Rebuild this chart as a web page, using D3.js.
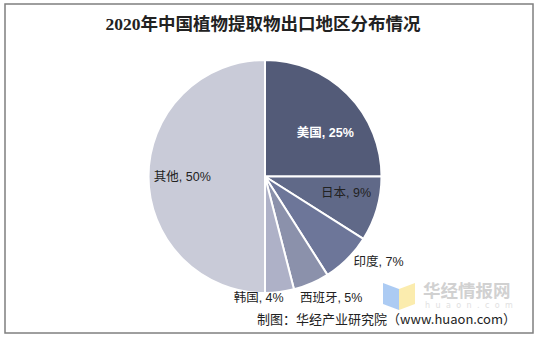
<!DOCTYPE html>
<html>
<head>
<meta charset="utf-8">
<script src="https://cdn.jsdelivr.net/npm/d3@7/dist/d3.min.js"></script>
<style>
  html, body { margin: 0; padding: 0; background: #fff; }
  svg { display: block; }
</style>
</head>
<body>
<svg id="chart" width="537" height="338"></svg>
<script>
// Export destinations of Chinese plant extracts, 2020 (share, %)
const regions = ["美国", "日本", "印度", "西班牙", "韩国", "其他"];
const shares  = [25, 9, 7, 5, 4, 50];
const sliceColors = ["#535b78", "#606988", "#6d7699", "#8b91ab", "#aeb1c7", "#c9cbd8"];
const titleText  = "2020年中国植物提取物出口地区分布情况";
const sourceText = "制图：华经产业研究院（www.huaon.com）";

const W = 537, H = 338;
const cx = 265, cy = 176.5, R = 116.5;

// label placement: angle (deg, clockwise from 12 o'clock) and radius factor
const labelLayout = {
  "美国":   { a: 54,    k: 0.64, color: "#ffffff", weight: "bold" },
  "日本":   { a: 101.5, k: 0.71, color: "#222", weight: "normal" },
  "印度":   { a: 127,   k: 1.22, color: "#222", weight: "normal" },
  "西班牙": { a: 151.5, k: 1.19, color: "#222", weight: "normal" },
  "韩国":   { a: 183,   k: 1.045, color: "#222", weight: "normal" },
  "其他":   { a: 270,   k: 0.71, color: "#222", weight: "normal" }
};

const svg = d3.select("#chart");

// outer frame
svg.append("rect")
  .attr("x", 5).attr("y", 4)
  .attr("width", 528).attr("height", 329)
  .attr("fill", "#fff")
  .attr("stroke", "#7f7f7f")
  .attr("stroke-width", 1.5);

// title
svg.append("text")
  .attr("x", 263).attr("y", 30)
  .attr("text-anchor", "middle")
  .attr("font-family", "'Liberation Serif', 'Times New Roman', 'Noto Sans CJK SC', serif")
  .attr("font-size", 17.5)
  .attr("font-weight", "bold")
  .attr("fill", "#222")
  .text(titleText);

const data = regions.map((r, i) => ({ region: r, value: shares[i], color: sliceColors[i] }));

const pie = d3.pie().value(d => d.value).sort(null);
const arc = d3.arc().innerRadius(0).outerRadius(R);

const g = svg.append("g").attr("transform", `translate(${cx},${cy})`);

g.selectAll("path.slice")
  .data(pie(data))
  .join("path")
  .attr("class", "slice")
  .attr("d", arc)
  .attr("fill", d => d.data.color)
  .attr("stroke", "#ffffff")
  .attr("stroke-width", 2)
  .attr("stroke-linejoin", "round");

// data labels
g.selectAll("text.lbl")
  .data(pie(data))
  .join("text")
  .attr("class", "lbl")
  .each(function (d) {
    const L = labelLayout[d.data.region];
    const ang = L.a * Math.PI / 180;
    const r = R * L.k;
    d3.select(this)
      .attr("x", r * Math.sin(ang))
      .attr("y", -r * Math.cos(ang))
      .attr("fill", L.color)
      .attr("font-weight", L.weight);
  })
  .attr("text-anchor", "middle")
  .attr("dominant-baseline", "central")
  .attr("font-family", "'Liberation Sans', Arial, 'Noto Sans CJK SC', sans-serif")
  .attr("font-size", 12.5)
  .text(d => `${d.data.region}, ${d.data.value}%`);

// watermark logo
const wm = svg.append("g").attr("opacity", 0.85);
wm.append("path")
  .attr("d", "M383,283 L399,289 L399,310 L383,304 Z")
  .attr("fill", "#9ec3f2");
wm.append("path")
  .attr("d", "M399,289 L415,283 L415,304 L399,310 Z")
  .attr("fill", "#fbe9a0");
wm.append("text")
  .attr("x", 423).attr("y", 297)
  .attr("font-family", "'Noto Sans CJK SC', sans-serif")
  .attr("font-size", 17.5)
  .attr("font-weight", "bold")
  .attr("fill", "#c9c9c9")
  .text("华经情报网");
wm.append("text")
  .attr("x", 425).attr("y", 308)
  .attr("font-family", "'DejaVu Sans', sans-serif")
  .attr("font-size", 8)
  .attr("letter-spacing", 5.4)
  .attr("fill", "#dcdcdc")
  .text("huaon.com");

// source line
svg.append("text")
  .attr("x", 516).attr("y", 324)
  .attr("text-anchor", "end")
  .attr("font-family", "'Noto Sans CJK SC', 'Liberation Sans', sans-serif")
  .attr("font-size", 13)
  .attr("fill", "#222")
  .text(sourceText);
</script>
</body>
</html>
